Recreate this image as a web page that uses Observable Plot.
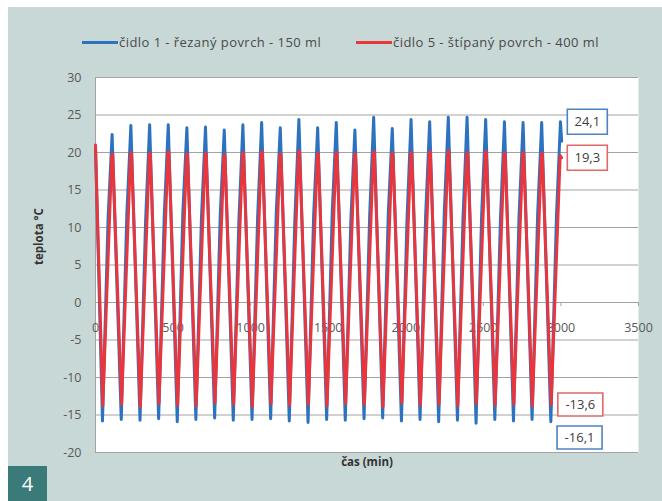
<!DOCTYPE html>
<html>
<head>
<meta charset="utf-8">
<script src="https://cdn.jsdelivr.net/npm/d3@7"></script>
<script src="https://cdn.jsdelivr.net/npm/@observablehq/plot@0.6"></script>
<style>
  html, body { margin: 0; padding: 0; background: #ffffff; }
  #wrap { position: relative; width: 662px; height: 501px; overflow: hidden; background: #ffffff; }
  #panel { position: absolute; left: 8px; top: 7px; right: 0; bottom: 0; background: #c8d8d7; }
  #chart { position: absolute; left: 0; top: 0; }
  .leg { position: absolute; top: 33px; height: 18px; font: 13px "Open Sans", sans-serif; letter-spacing: 0.45px; color: #4a4a4a; white-space: nowrap; line-height: 18px; }
  .sw { display: inline-block; width: 36px; height: 3px; vertical-align: middle; margin-right: 1px; position: relative; top: -1px; }
  #badge { position: absolute; left: 8px; top: 466px; width: 39px; height: 35px; background: #3a7a78; color: #ffffff;
           font: 20px "Open Sans", sans-serif; text-align: center; line-height: 35px; }
</style>
</head>
<body>
<div id="wrap">
  <div id="panel"></div>
  <div id="chart"></div>
  <div class="leg" id="leg0" style="left:82px"></div>
  <div class="leg" id="leg1" style="left:356px"></div>
  <div id="badge">4</div>
</div>
<script>
// ---- data ----
const seriesNames = ["čidlo 1 - řezaný povrch - 150 ml", "čidlo 5 - štípaný povrch - 400 ml"];
const xTicks = [0, 500, 1000, 1500, 2000, 2500, 3000, 3500];
const yTicks = [-20, -15, -10, -5, 0, 5, 10, 15, 20, 25, 30];
const xTitle = "čas (min)";
const yTitle = "teplota °C";

// čidlo 1 (blue): turning points (time in min, temperature in °C): trough, knee, peak per cycle
const blueTime = [0,
  45, 81, 107,     166, 202, 228,     287, 323, 349,     407, 443, 469,     527, 563, 589,
  647, 683, 709,   768, 804, 830,     888, 924, 950,     1009, 1045, 1071,  1129, 1165, 1191,
  1249, 1285, 1311, 1370, 1406, 1432, 1490, 1526, 1552,  1610, 1646, 1672,  1731, 1767, 1793,
  1851, 1887, 1913, 1972, 2008, 2034, 2092, 2128, 2154,  2212, 2248, 2274,  2333, 2369, 2395,
  2453, 2489, 2515, 2574, 2610, 2636, 2694, 2730, 2756,  2814, 2850, 2876,  2935, 2971, 2997,
  3005];
const blueValue = [20.6,
  -15.8, 11.2, 22.4,  -15.6, 11.8, 23.6,  -15.7, 10.9, 23.7,  -15.5, 11.5, 23.7,  -15.9, 12.0, 23.3,
  -15.6, 11.3, 23.4,  -15.4, 11.7, 23.0,  -15.7, 10.8, 23.7,  -15.6, 11.4, 24.0,  -15.5, 11.9, 23.3,
  -15.8, 11.1, 24.4,  -16.0, 11.6, 23.3,  -15.6, 12.1, 24.0,  -15.7, 11.0, 23.0,  -15.5, 11.5, 24.7,
  -15.4, 11.8, 23.2,  -15.8, 11.2, 24.4,  -15.6, 11.6, 24.1,  -15.9, 11.9, 24.7,  -15.7, 11.3, 24.7,
  -16.1, 11.7, 24.4,  -15.6, 11.0, 24.1,  -15.8, 11.5, 24.0,  -15.6, 11.8, 24.0,  -15.9, 11.4, 24.1,
  21.5];

// čidlo 5 (red): turning points (time in min, temperature in °C)
const redTime = [0,
  47, 105, 111, 168, 226, 232, 289, 347, 353, 409, 467, 473, 529, 587, 593,
  649, 707, 713, 770, 828, 834, 890, 948, 954, 1011, 1069, 1075, 1131, 1189, 1195,
  1251, 1309, 1315, 1372, 1430, 1436, 1492, 1550, 1556, 1612, 1670, 1676, 1733, 1791, 1797,
  1853, 1911, 1917, 1974, 2032, 2038, 2094, 2152, 2158, 2214, 2272, 2278, 2335, 2393, 2399,
  2455, 2513, 2519, 2576, 2634, 2640, 2696, 2754, 2760, 2816, 2874, 2880, 2937, 2995, 3004];
const redValue = [21.0,
  -13.8, 19.6, 19.8, -13.6, 19.9, 20.0, -13.9, 19.8, 19.9, -13.5, 20.0, 20.1, -13.7, 19.7, 19.8,
  -13.8, 19.8, 19.9, -13.4, 19.6, 19.7, -13.6, 19.9, 20.0, -13.9, 20.0, 20.1, -13.5, 19.7, 19.8,
  -13.7, 20.1, 20.2, -13.6, 19.8, 19.9, -13.8, 19.9, 20.0, -13.5, 19.7, 19.8, -13.6, 20.0, 20.1,
  -13.9, 19.8, 19.9, -13.4, 19.9, 20.0, -13.7, 20.0, 20.1, -13.6, 20.1, 20.2, -13.8, 19.9, 20.0,
  -13.5, 20.0, 20.1, -13.7, 19.8, 19.9, -13.6, 19.9, 20.0, -13.8, 19.8, 19.9, -13.6, 19.6, 19.3];

// value annotations
const labelTexts = ["24,1", "19,3", "-13,6", "-16,1"];
const labelSeries = [0, 1, 1, 0];
const labelX = [3170, 3170, 3125, 3120];
const labelY = [24.1, 19.3, -13.6, -18.0];

// ---- build ----
const lineColors = ["#2d72bf", "#e8363c"];
const boxColors = ["#4f82c0", "#e06868"];
const gridColor = "#a3a3a3";

const blue = blueTime.map((t, i) => ({t, v: blueValue[i]}));
const red = redTime.map((t, i) => ({t, v: redValue[i]}));
const labels = labelTexts.map((text, i) => ({text, s: labelSeries[i], x: labelX[i], y: labelY[i]}));

function boxSymbol(w, h) {
  return { draw(ctx) { ctx.rect(-w / 2, -h / 2, w, h); } };
}

const plot = Plot.plot({
  width: 662,
  height: 501,
  marginLeft: 95,
  marginRight: 24,
  marginTop: 77,
  marginBottom: 49,
  x: {domain: [0, 3500], axis: null},
  y: {domain: [-20, 30], axis: null},
  style: {background: "transparent", fontFamily: "'Open Sans', sans-serif", fontSize: "12px", color: "#595959"},
  marks: [
    Plot.frame({fill: "white", stroke: "none"}),
    Plot.gridY(yTicks, {stroke: gridColor, strokeOpacity: 1, strokeWidth: 1}),
    Plot.ruleX([0], {stroke: gridColor, strokeWidth: 1}),
    Plot.ruleX(xTicks, {x: d => d, y1: () => 0, y2: () => 0, insetBottom: -4, stroke: gridColor}),
    Plot.axisY(yTicks, {tickSize: 0, tickPadding: 14, tickFormat: d => String(d), label: null, fontSize: 12.5, fill: "#595959"}),
    Plot.text(xTicks, {x: d => d, y: () => 0, dy: 25, text: d => String(d), fontSize: 12.5, fill: "#595959"}),
    Plot.line(blue, {x: "t", y: "v", stroke: lineColors[0], strokeWidth: 3}),
    Plot.line(red, {x: "t", y: "v", stroke: lineColors[1], strokeWidth: 3}),
    Plot.dot(labels.filter(d => d.text.length <= 4), {x: "x", y: "y", symbol: boxSymbol(40, 25), fill: "white",
      stroke: d => boxColors[d.s], strokeWidth: 1.6}),
    Plot.dot(labels.filter(d => d.text.length > 4), {x: "x", y: "y", symbol: boxSymbol(45, 23), fill: "white",
      stroke: d => boxColors[d.s], strokeWidth: 1.6}),
    Plot.text(labels, {x: "x", y: "y", text: "text", fontSize: 13, fill: "#404040"}),
    Plot.text([yTitle], {frameAnchor: "left", dx: -56, rotate: -90, fontWeight: "bold", fontSize: 11.5, fill: "#333333"}),
    Plot.text([xTitle], {frameAnchor: "bottom", dy: 13, fontWeight: "bold", fontSize: 11.5, fill: "#333333"})
  ]
});
document.getElementById("chart").appendChild(plot);

// legend
seriesNames.forEach((name, i) => {
  const el = document.getElementById("leg" + i);
  const sw = document.createElement("span");
  sw.className = "sw";
  sw.style.background = lineColors[i];
  el.appendChild(sw);
  el.appendChild(document.createTextNode(name));
});
</script>
</body>
</html>
